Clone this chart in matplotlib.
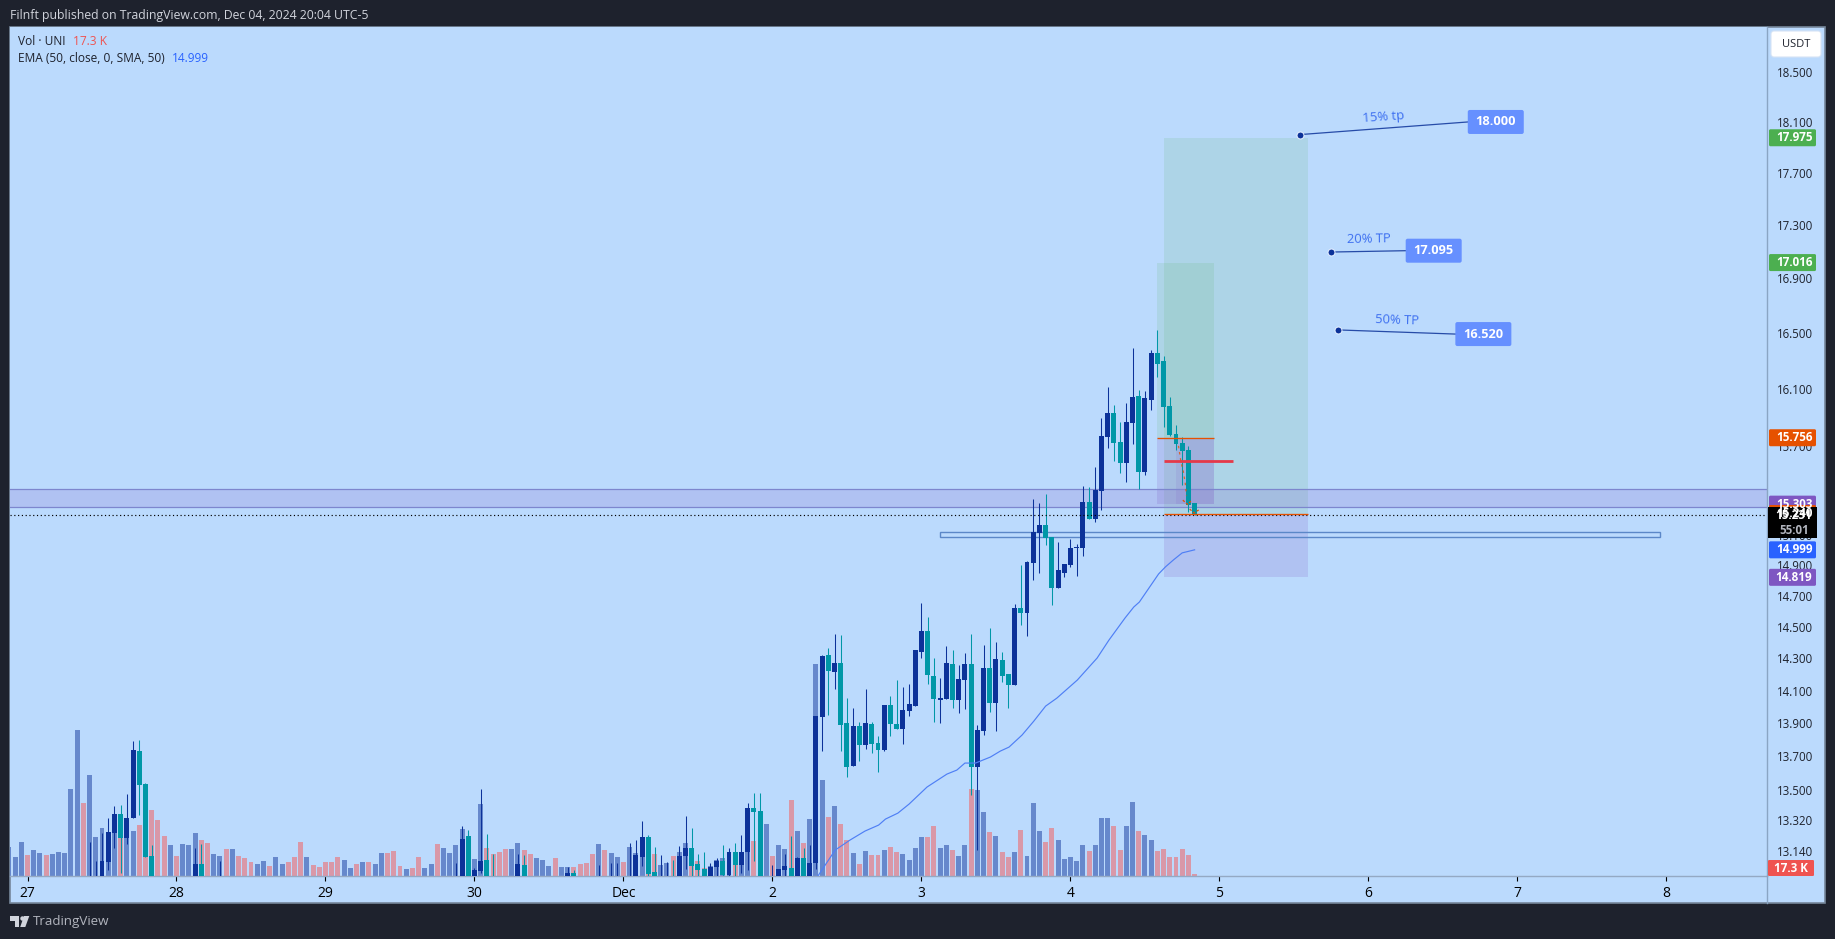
#!/usr/bin/python3

import matplotlib
matplotlib.use("Agg")
import matplotlib.pyplot as plt
from matplotlib.patches import Rectangle, FancyBboxPatch, Polygon
from matplotlib.ticker import FixedLocator, FixedFormatter, NullLocator

W, H = 1835, 939
FONT = "Open Sans"

# hourly bars, bar 0 = Nov 27 00:00
first_vol_bar = -3
volume = [
    251, 164, 294, 182, 225, 199, 182, 190, 208, 199, 752, 1263, 631, 874, 337, 415,
    311, 372, 369, 355, 389, 441, 484, 571, 484, 346, 268, 173, 277, 268, 372, 311,
    285, 190, 173, 234, 234, 173, 156, 121, 104, 130, 86, 164, 104, 121, 164, 294,
    164, 95, 78, 121, 121, 164, 138, 69, 104, 121, 121, 104, 199, 199, 216, 86,
    61, 69, 164, 69, 104, 277, 242, 199, 268, 407, 167, 147, 623, 242, 190, 208,
    234, 234, 285, 225, 190, 156, 138, 86, 156, 78, 78, 78, 104, 112, 190, 277,
    225, 199, 164, 121, 251, 199, 173, 138, 190, 95, 112, 173, 208, 285, 86, 130,
    69, 86, 138, 156, 156, 95, 190, 277, 303, 138, 450, 173, 268, 234, 657, 389,
    285, 493, 1834, 830, 510, 605, 450, 311, 199, 104, 216, 182, 182, 225, 251, 208,
    190, 138, 242, 337, 337, 432, 242, 268, 225, 173, 268, 752, 744, 553, 380, 346,
    208, 164, 208, 398, 173, 631, 389, 294, 415, 311, 147, 164, 130, 268, 216, 268,
    502, 502, 432, 225, 432, 640, 389, 355, 311, 216, 234, 164, 164, 234, 182, 17.3,
]
vol_dirs = (
    "uuudUUdUUUUUdUUUUdUUUddddduduuudduududdduuduudddu"
    "dddduuudduddu"
)
# u = up bar, d = down bar, one letter per bar from first_vol_bar
vol_dirs = (
    "uuu" "duuduuuuuduuuuduu" "dddddu" "duuu" "dduudduuddu"
)
vol_dirs = (
    "uuuduuduuuuuduuuuduuddddduduuudduududddu"
    "uuududdudddduuduududu"
)
down_bars = [
    0, 3, 9, 15, 18, 19, 20, 21, 22, 24, 28, 29, 32, 34, 35, 36, 39, 42, 43, 44, 46, 47,
    48, 49, 50, 53, 55, 58, 59, 60, 62, 63, 66, 71, 74, 75, 76, 77, 80, 81, 85, 88, 89,
    90, 91, 93, 96, 100, 101, 104, 107, 108, 109, 114, 117, 118, 120, 123, 125, 129, 131,
    132, 134, 136, 137, 139, 140, 145, 146, 149, 152, 155, 157, 158, 160, 164, 165, 171,
    175, 176, 179, 182, 183, 184, 185, 186, 187, 188,
]

candle_bars = [
    10, 11, 12, 13, 14, 15, 16, 17, 18, 19, 20, 27, 28, 31, 69, 70, 71, 72, 73, 74, 75,
    79, 80, 87, 88, 92, 94, 95, 97, 98, 99, 100, 101, 102, 103, 104, 105, 106, 107, 108,
    109, 110, 111, 112, 113, 114, 115, 116, 117, 118, 120, 121, 122, 123, 124, 125, 126,
    127, 128, 129, 130, 131, 132, 133, 134, 135, 136, 137, 138, 139, 140, 141, 142, 143,
    144, 145, 146, 147, 148, 149, 150, 151, 152, 153, 154, 155, 156, 157, 158, 159, 160,
    161, 162, 163, 164, 165, 166, 167, 168, 169, 170, 171, 172, 173, 174, 175, 176, 177,
    178, 179, 180, 181, 182, 183, 184, 185, 186, 187, 188,
]
candle_open = [
    12.93, 12.93, 12.95, 13.076, 13.245, 13.356, 13.216, 13.332, 13.730, 13.532, 13.111,
    12.95, 13.065, 12.93, 12.93, 12.95, 13.227, 12.95, 13.025, 13.088, 12.97,
    12.95, 13.059, 12.95, 13.014, 12.93, 12.93, 12.93, 12.93, 12.95, 13.105, 13.221,
    13.019, 12.93, 12.93, 12.97, 12.95, 13.111, 13.157, 13.065,
    13.036, 12.95, 13.048, 13.082, 13.002, 13.134, 13.059, 13.134, 13.391, 13.373,
    12.93, 12.95, 13.031, 13.042, 12.95, 13.099, 12.95,
    13.070, 13.936, 14.321, 14.215, 14.271, 13.900, 13.640, 13.881, 13.766, 13.894,
    13.779, 13.736, 14.010, 13.894, 13.863, 13.973, 14.004,
    14.340, 14.474, 14.190, 14.041, 14.047, 14.265, 14.041, 14.165, 14.265, 13.634,
    13.851, 14.240, 14.022, 14.290, 14.202, 14.134, 14.621,
    14.589, 14.913, 15.112, 15.166, 15.086, 14.750, 14.848, 14.900, 15.012, 15.012,
    15.320, 15.206, 15.394, 15.764, 15.931, 15.729, 15.584,
    15.861, 16.050, 15.523, 16.022, 16.356, 16.299, 15.980, 15.785, 15.722, 15.674, 15.313,
]
candle_high = [
    13.192, 13.082, 13.245, 13.332, 13.403, 13.409, 13.473, 13.791, 13.797, 13.538, 13.175,
    13.157, 13.181, 13.082, 13.070, 13.285, 13.262, 13.042, 13.503, 13.239, 13.122,
    13.122, 13.117, 13.048, 13.031, 13.059, 13.070, 13.070, 13.187, 13.204, 13.314, 13.233,
    13.163, 13.117, 13.076, 13.088, 13.169, 13.344, 13.274, 13.122,
    13.134, 13.070, 13.099, 13.175, 13.157, 13.187, 13.233, 13.420, 13.479, 13.479,
    13.059, 13.036, 13.122, 13.227, 13.105, 13.157, 13.175,
    13.942, 14.321, 14.366, 14.454, 14.448, 14.053, 13.991, 13.906, 14.109, 13.906,
    13.821, 14.010, 14.066, 14.165, 14.121, 14.140, 14.353,
    14.653, 14.563, 14.303, 14.177, 14.378, 14.353, 14.259, 14.334, 14.454, 13.888,
    14.385, 14.493, 14.403, 14.340, 14.202, 14.647, 14.900,
    14.926, 15.340, 15.313, 15.374, 15.086, 15.053, 14.907, 15.072, 15.039, 15.428,
    15.421, 15.558, 15.896, 16.114, 15.987, 15.868, 16.001,
    16.392, 16.093, 16.086, 16.378, 16.523, 16.335, 16.043, 15.847, 15.764, 15.702, 15.313,
]
candle_low = [
    12.9, 12.9, 12.9, 13.031, 13.157, 13.014, 13.181, 13.332, 13.350, 13.105, 12.9,
    12.9, 12.9, 12.9, 12.9, 12.9, 12.9, 12.9, 13.014, 12.9, 12.9,
    12.9, 12.9, 12.9, 12.9, 12.9, 12.9, 12.9, 12.9, 12.9, 13.053, 12.99,
    12.9, 12.9, 12.9, 12.9, 12.9, 13.036, 12.99, 12.99,
    12.9, 12.9, 12.99, 12.99, 12.99, 12.99, 13.014, 13.031, 13.082, 12.9,
    12.9, 12.9, 12.99, 12.9, 12.9, 12.9, 12.9,
    13.036, 13.730, 13.948, 14.109, 13.730, 13.574, 13.640, 13.670, 13.742, 13.718,
    13.604, 13.730, 13.821, 13.863, 13.772, 13.942, 14.004,
    14.303, 14.140, 13.906, 13.900, 14.047, 13.991, 13.961, 13.985, 13.467, 13.146,
    13.827, 13.967, 13.851, 14.152, 13.991, 14.134, 14.512,
    14.441, 14.802, 14.848, 15.033, 14.640, 14.750, 14.822, 14.887, 14.828, 14.960,
    15.206, 15.186, 15.266, 15.688, 15.598, 15.517, 15.455,
    15.715, 15.408, 15.503, 15.952, 16.185, 15.833, 15.771, 15.674, 15.435, 15.253, 15.231,
]
candle_close = [
    12.97, 12.97, 13.082, 13.250, 13.356, 13.216, 13.332, 13.736, 13.526, 13.105, 12.95,
    13.065, 12.95, 12.97, 12.97, 13.210, 12.95, 13.031, 13.082, 12.95, 12.93,
    13.065, 12.95, 13.014, 12.95, 12.97, 12.97, 12.97, 12.97, 13.117, 13.221, 13.008,
    12.95, 12.97, 12.97, 12.93, 13.111, 13.157, 13.053, 13.031,
    12.95, 13.048, 13.082, 13.002, 13.134, 13.059, 13.134, 13.391, 13.367, 12.95,
    12.97, 13.036, 13.053, 12.95, 13.099, 12.95, 13.070,
    13.942, 14.315, 14.221, 14.271, 13.888, 13.634, 13.881, 13.766, 13.900, 13.772,
    13.736, 14.010, 13.894, 13.863, 13.979, 14.016, 14.353,
    14.474, 14.196, 14.047, 14.053, 14.271, 14.041, 14.171, 14.265, 13.634, 13.857,
    14.240, 14.022, 14.296, 14.190, 14.134, 14.621, 14.589,
    14.920, 15.119, 15.166, 15.079, 14.750, 14.868, 14.907, 15.012, 15.019, 15.320,
    15.206, 15.401, 15.770, 15.931, 15.722, 15.584, 15.868,
    16.043, 15.523, 16.036, 16.356, 16.278, 15.973, 15.778, 15.715, 15.667, 15.300, 15.231,
]

ema_bars = [
    127, 130.1, 132.5, 134.9, 137.1, 138.2, 140.2, 142, 144.9, 148.1, 149.7, 151, 152.7,
    155.1, 156.7, 158.1, 160.2, 162.1, 164, 165.8, 169.1, 172.3, 174.2, 176.8, 178.2,
    179.1, 181.2, 182.2, 183.3, 184.6, 186, 188,
]
ema_values = [
    12.98, 13.146, 13.204, 13.256, 13.291, 13.326, 13.361, 13.414, 13.515, 13.592, 13.616,
    13.658, 13.658, 13.694, 13.730, 13.754, 13.827, 13.912, 14.004, 14.053, 14.165, 14.303,
    14.416, 14.557, 14.627, 14.659, 14.782, 14.841, 14.887, 14.933, 14.979, 14.999,
]

price_ticks = [13.14, 13.32, 13.5, 13.7, 13.9, 14.1, 14.3, 14.5, 14.7, 14.9, 15.1,
               15.7, 16.1, 16.5, 16.9, 17.3, 17.7, 18.1, 18.5]
day_ticks = [0, 24, 48, 72, 96, 120, 144, 168, 192, 216, 240, 264]
day_labels = ["27", "28", "29", "30", "Dec", "2", "3", "4", "5", "6", "7", "8"]

BG = "#bbdafd"
DARK = "#1e222d"
UP = "#0c3299"
DOWN = "#0097a7"
VOL_UP = "#6688cc"
VOL_DOWN = "#d998a8"
GREEN = "#4caf50"
PURPLE = "#7e57c2"
ORANGE = "#e65100"
BOX = "#6690ff"
TEXT = "#1e222d"

# chart pane in pixels
LEFT, RIGHT, TOP, BOTTOM = 10, 1767, 27, 876


def main():
    fig = plt.figure(figsize=(W / 100, H / 100), dpi=100, facecolor=DARK)
    plt.rcParams["font.family"] = [FONT, "DejaVu Sans"]

    # frame behind both the pane and the axis strips
    fig.add_artist(Rectangle((10 / W, (H - 903) / H), 1815 / W, 876 / H, transform=fig.transFigure,
                             fc=BG, ec="#76879b", lw=1.2, zorder=-1))

    pos = [LEFT / W, (H - BOTTOM) / H, (RIGHT - LEFT) / W, (BOTTOM - TOP) / H]
    vax = fig.add_axes(pos, facecolor=BG)
    ax = vax.twinx()
    ax.set_zorder(vax.get_zorder() + 1)
    ax.patch.set_visible(False)

    # volume
    bars = [first_vol_bar + i for i in range(len(volume))]
    colors = [VOL_DOWN if b in down_bars else VOL_UP for b in bars]
    vax.bar(bars, volume, width=0.8, color=colors, antialiased=False)
    vax.set_ylim(0, 7344)
    vax.set_yticks([])

    # position tools, under the candles
    ax.set_yscale("log")
    ax.set_xlim(-2.82, 280.2)
    ax.set_ylim(12.997, 18.871)
    ax.fill_between([183, 206.3], 15.24, 17.975, color=GREEN, alpha=0.12, lw=0, zorder=1)
    ax.fill_between([183, 206.3], 14.819, 15.24, color=PURPLE, alpha=0.18, lw=0, zorder=1)
    ax.fill_between([182, 191.2], 15.756, 17.016, color=GREEN, alpha=0.12, lw=0, zorder=1)
    ax.fill_between([182, 191.2], 15.303, 15.756, color=PURPLE, alpha=0.18, lw=0, zorder=1)
    ax.fill_between([185, 191.2], 15.303, 15.756, color=PURPLE, alpha=0.12, lw=0, zorder=1)

    # support zone and thin box
    ax.axhspan(15.286, 15.408, facecolor=PURPLE, alpha=0.18, lw=0, zorder=1)
    ax.axhline(15.408, color="#7d86ce", lw=0.9, zorder=2)
    ax.axhline(15.286, color="#7d86ce", lw=0.9, zorder=2)
    ax.add_patch(Rectangle((147, 15.087), 116, 0.032, fc="none", ec="#5b87c8", lw=1.0, zorder=2))

    # candles
    for b, o, h, l, c in zip(candle_bars, candle_open, candle_high, candle_low, candle_close):
        col = UP if c >= o else DOWN
        ax.vlines(b, l, h, color=col, lw=0.75, zorder=3)
        ax.bar(b, abs(c - o), bottom=min(o, c), width=0.8, color=col, antialiased=False, zorder=4)

    ax.plot(ema_bars, ema_values, color="#4f7ff5", lw=0.85, zorder=5)

    # last price line and trade lines
    ax.axhline(15.231, color="black", lw=0.85, ls=(0, (1, 2.2)), zorder=6)
    ax.hlines(15.756, 182, 191.2, color=ORANGE, lw=0.95, zorder=6)
    ax.hlines(15.24, 183, 206.3, color=ORANGE, lw=0.95, zorder=6)
    ax.hlines(15.593, 183, 194.2, color="#e53949", lw=2.0, zorder=6)
    ax.plot([185.4, 185.8, 186.2, 186.5, 186.7], [15.70, 15.59, 15.52, 15.44, 15.36],
            color=ORANGE, lw=0.9, ls=(0, (2, 3)), alpha=0.8, zorder=6)
    ax.plot([186.1, 186.9, 187.5], [15.33, 15.30, 15.33], color=ORANGE, lw=0.9, ls=(0, (2, 1.5)), zorder=6)
    ax.plot([187.2, 187.9, 188.9], [15.27, 15.245, 15.27], color=ORANGE, lw=0.9, ls=(0, (2, 1.5)), zorder=6)

    # axes furniture
    for s in ax.spines.values():
        s.set_visible(False)
    for s in vax.spines.values():
        s.set_visible(False)
    ax.spines["right"].set_visible(True)
    ax.spines["right"].set_color("#8aa5c4")
    ax.spines["bottom"].set_visible(True)
    ax.spines["bottom"].set_color("#94a9c4")
    ax.spines["right"].set_linewidth(1.0)
    ax.spines["bottom"].set_linewidth(1.0)

    ax.yaxis.set_major_locator(FixedLocator(price_ticks))
    ax.yaxis.set_major_formatter(FixedFormatter(["%.3f" % p for p in price_ticks]))
    ax.yaxis.set_minor_locator(NullLocator())
    ax.tick_params(axis="y", length=0, pad=7, labelsize=8.3, labelcolor=TEXT)
    vax.set_xticks([])
    ax.set_xticks(day_ticks)
    ax.set_xticklabels(day_labels)
    ax.tick_params(axis="x", length=0, pad=5.5, labelsize=8.3, labelcolor=TEXT)
    for lab in ax.get_xticklabels():
        if lab.get_text() == "Dec":
            lab.set_fontweight("semibold")

    # second spine strip down to the frame
    ov = fig.add_axes([0, 0, 1, 1], zorder=10)
    ov.set_xlim(0, W)
    ov.set_ylim(H, 0)
    ov.axis("off")
    ov.patch.set_visible(False)
    ov.plot([RIGHT, RIGHT], [BOTTOM, 903], color="#8aa5c4", lw=1.0)

    def to_px(bar, price):
        x, y = ax.transData.transform((bar, price))
        return x, H - y

    # tags on the price axis
    def tag(price, label, color, right=1817, h=17):
        y = to_px(0, price)[1]
        ov.add_patch(FancyBboxPatch((1769, y - h / 2), right - 1770, h, boxstyle="round,pad=0,rounding_size=1.5",
                                    fc=color, ec="none", mutation_aspect=1))
        ov.text(1794, y, label, color="white", fontsize=8.4, fontweight="bold", ha="center", va="center")

    tag(17.975, "17.975", GREEN)
    tag(17.016, "17.016", GREEN)
    tag(15.756, "15.756", ORANGE)
    tag(15.303, "15.303", PURPLE, h=17)
    tag(15.24, "15.240", ORANGE, h=17)
    tag(14.999, "14.999", "#2962ff")
    tag(14.819, "14.819", PURPLE)
    ov.add_patch(Rectangle((1768, 507), 49, 31, fc="black", ec="none"))
    ov.text(1794, 515.5, "15.231", color="white", fontsize=8.4, fontweight="bold", ha="center", va="center")
    ov.text(1794, 530, "55:01", color="#b2b5be", fontsize=8.4, fontweight="bold", ha="center", va="center")
    ov.add_patch(FancyBboxPatch((1768, 860), 46, 16, boxstyle="round,pad=0,rounding_size=1.2", fc="#ef5350", ec="none"))
    ov.text(1791, 868, "17.3 K", color="white", fontsize=8.4, fontweight="bold", ha="center", va="center")

    ov.add_patch(FancyBboxPatch((1771, 31), 50, 26, boxstyle="round,pad=0,rounding_size=3", fc="white", ec="#d6e4f5", lw=0.8))
    ov.text(1796, 44.5, "USDT", color=TEXT, fontsize=8.0, ha="center", va="center")

    # callouts: anchor bar, anchor price, end bar, end price, box width
    callouts = [
        (205, 18.0, 232, 18.1, "18.000", "15% tp", 1383, 117.5, 4),
        (210, 17.095, 222, 17.105, "17.095", "20% TP", 1368.7, 239, 1),
        (211.1, 16.52, 230, 16.49, "16.520", "50% TP", 1397, 320, -2),
    ]
    for b0, p0, b1, p1, value, note, nx, ny, rot in callouts:
        x0, y0 = to_px(b0, p0)
        x1, y1 = to_px(b1, p1)
        ov.plot([x0, x1], [y0, y1], color=UP, lw=0.9, alpha=0.85, zorder=2)
        ov.plot([x0], [y0], "o", ms=5, mfc=UP, mec="#e8f1ff", mew=0.7, zorder=3)
        ov.add_patch(FancyBboxPatch((x1, y1 - 12), 56, 24, boxstyle="round,pad=0,rounding_size=2", fc=BOX, ec="none", zorder=3))
        ov.text(x1 + 28, y1, value, color="white", fontsize=9.2, fontweight="bold", ha="center", va="center", zorder=4)
        ov.text(nx, ny, note, color="#3d6ff0", fontsize=9.4, ha="center", va="center", rotation=rot)

    # header, legend, footer
    ov.text(10, 15, "Filnft published on TradingView.com, Dec 04, 2024 20:04 UTC-5", color="#d1d4dc",
            fontsize=8.8, ha="left", va="center")
    ov.text(18, 41.5, "Vol · UNI", color=TEXT, fontsize=8.6, ha="left", va="center")
    ov.text(73, 41.5, "17.3 K", color="#ef5350", fontsize=8.6, ha="left", va="center")
    ov.text(18, 59, "EMA (50, close, 0, SMA, 50)", color=TEXT, fontsize=8.6, ha="left", va="center")
    ov.text(172, 59, "14.999", color="#2962ff", fontsize=8.6, ha="left", va="center")

    ov.add_patch(Polygon([(10, 916), (19, 916), (19, 927), (14.5, 927), (14.5, 920.5), (10, 920.5)], fc="#d1d4dc", ec="none"))
    ov.plot([21.5], [918.3], "o", ms=3.2, mfc="#d1d4dc", mec="none")
    ov.add_patch(Polygon([(24, 916), (29.3, 916), (25.3, 927), (20.2, 927)], fc="#d1d4dc", ec="none"))
    ov.text(33, 921.5, "TradingView", color="#b2b5be", fontsize=9.6, ha="left", va="center")

    fig.savefig("out.png", dpi=100, facecolor=DARK)
    plt.close(fig)


if __name__ == "__main__":
    main()
